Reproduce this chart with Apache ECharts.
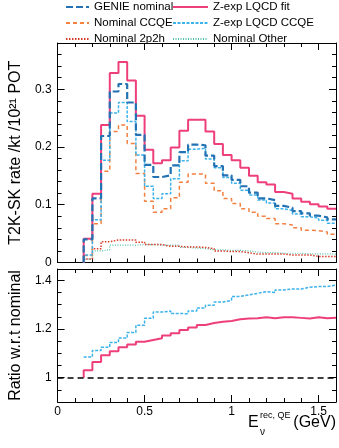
<!DOCTYPE html>
<html>
<head>
<meta charset="utf-8">
<script src="https://cdn.jsdelivr.net/npm/echarts@6/dist/echarts.min.js"></script>
<style>
  html, body { margin: 0; padding: 0; background: #fff; }
  #chart { width: 339px; height: 448px; }
</style>
</head>
<body>
<div id="chart"></div>
<script>
// bin edges (GeV), 29 bins of 0.05
const binEdges = [0.15, 0.2, 0.25, 0.3, 0.35, 0.4, 0.45, 0.5, 0.55, 0.6, 0.65, 0.7, 0.75, 0.8, 0.85,
  0.9, 0.95, 1.0, 1.05, 1.1, 1.15, 1.2, 1.25, 1.3, 1.35, 1.4, 1.45, 1.5, 1.55, 1.6]

// top panel: rate / kt / 1e21 POT
const genieNominal = [0.040, 0.111, 0.219, 0.296, 0.309, 0.277, 0.221, 0.169, 0.148, 0.151, 0.168, 0.191,
  0.204, 0.203, 0.185, 0.167, 0.151, 0.143, 0.132, 0.121, 0.111, 0.108, 0.098, 0.095, 0.089, 0.085, 0.081, 0.078, 0.0745]
const nominalCCQE = [0.012, 0.067, 0.158, 0.227, 0.238, 0.206, 0.154, 0.106, 0.087, 0.093, 0.112, 0.139,
  0.153, 0.153, 0.137, 0.124, 0.111, 0.102, 0.093, 0.087, 0.080, 0.076, 0.067, 0.065, 0.060, 0.056, 0.055, 0.053, 0.049]
const nominal2p2h = [0.006, 0.024, 0.036, 0.039, 0.039, 0.039, 0.035, 0.031, 0.031, 0.028, 0.028, 0.027,
  0.027, 0.026, 0.024, 0.020, 0.019, 0.019, 0.017, 0.0145, 0.0145, 0.0145, 0.0145, 0.013, 0.013, 0.013, 0.0105, 0.0105, 0.0105]
const nominalOther = [0.006, 0.020, 0.022, 0.030, 0.030, 0.030, 0.031, 0.031, 0.030, 0.030, 0.030, 0.026,
  0.025, 0.024, 0.022, 0.022, 0.021, 0.021, 0.020, 0.018, 0.017, 0.017, 0.016, 0.016, 0.016, 0.015, 0.015, 0.015, 0.0145]
const zexpFit = [0.041, 0.119, 0.238, 0.328, 0.347, 0.315, 0.254, 0.195, 0.172, 0.177, 0.199, 0.228,
  0.247, 0.247, 0.227, 0.205, 0.186, 0.177, 0.164, 0.150, 0.139, 0.135, 0.122, 0.119, 0.111, 0.105, 0.101, 0.097, 0.093]
const zexpCCQE = [0.013, 0.074, 0.177, 0.259, 0.277, 0.244, 0.186, 0.132, 0.111, 0.119, 0.145, 0.176,
  0.196, 0.198, 0.179, 0.164, 0.147, 0.137, 0.125, 0.117, 0.108, 0.103, 0.093, 0.090, 0.084, 0.079, 0.077, 0.073, 0.068]

// bottom panel: ratio w.r.t. nominal
const ratioFit = [1.031, 1.065, 1.092, 1.109, 1.125, 1.136, 1.148, 1.155, 1.162, 1.173, 1.183, 1.196,
  1.206, 1.217, 1.225, 1.230, 1.233, 1.240, 1.243, 1.244, 1.249, 1.244, 1.249, 1.249, 1.246, 1.243, 1.249, 1.244, 1.246]
const ratioCCQE = [1.085, 1.112, 1.125, 1.145, 1.163, 1.186, 1.216, 1.244, 1.270, 1.274, 1.264, 1.263,
  1.274, 1.287, 1.298, 1.311, 1.318, 1.334, 1.341, 1.347, 1.354, 1.350, 1.361, 1.365, 1.365, 1.372, 1.375, 1.375, 1.381]

// ticks
const xMajorTicks = [0, 0.5, 1, 1.5]
const xMinorTicks = [0.1, 0.2, 0.3, 0.4, 0.6, 0.7, 0.8, 0.9, 1.1, 1.2, 1.3, 1.4]
const rateMajorTicks = [0, 0.1, 0.2, 0.3]
const rateMinorTicks = [0.02, 0.04, 0.06, 0.08, 0.12, 0.14, 0.16, 0.18, 0.22, 0.24, 0.26, 0.28, 0.32, 0.34, 0.36]
const ratioMajorTicks = [1, 1.2, 1.4]
const ratioMinorTicks = [0.95, 1.05, 1.1, 1.15, 1.25, 1.3, 1.35]

const FONT = '"Liberation Sans", Arial, sans-serif'

function steps(values, base) {
  const pts = []
  if (base !== null) pts.push([binEdges[0], base])
  values.forEach((v, i) => {
    pts.push([binEdges[i], v], [binEdges[i + 1], v])
  })
  return pts
}

// four axes per side pair: main (line, major ticks, labels), minor, opposite main, opposite minor
function frameAxes(positions, gridIndex, lo, hi, major, minor, label, name) {
  const base = {
    type: 'value', gridIndex, min: lo, max: hi,
    splitLine: { show: false }
  }
  const axis = (position, ticks, len, line, withLabel) => ({
    ...base,
    position,
    axisLine: { show: line, onZero: false, lineStyle: { color: '#000', width: 1 } },
    axisTick: { show: true, inside: true, length: len, customValues: ticks, lineStyle: { color: '#000', width: 1 } },
    axisLabel: withLabel
      ? { show: true, customValues: major, color: '#000', fontSize: 12, fontFamily: FONT, ...label }
      : { show: false }
  })
  const main = axis(positions[0], major, 7, true, !!label)
  if (name) {
    main.name = name
    main.nameLocation = 'middle'
    main.nameGap = 32
    main.nameTextStyle = { fontSize: 16, color: '#000', fontFamily: FONT }
  }
  return [
    main,
    axis(positions[0], minor, 4, false, false),
    axis(positions[1], major, 7, true, false),
    axis(positions[1], minor, 4, false, false)
  ]
}

const chart = echarts.init(document.getElementById('chart'))

const line = (name, data, color, width, type, xi, yi) => ({
  name, type: 'line', data, xAxisIndex: xi, yAxisIndex: yi,
  symbol: 'none', showSymbol: false, animation: false,
  lineStyle: { color, width, type },
  itemStyle: { color }
})

const C = {
  genie: '#2272b4', ccqe: '#f28040', p2h: '#d83a28',
  fit: '#ee3f7c', zccqe: '#3cb2ea', other: '#50c0aa'
}

const legendBase = {
  top: 1, orient: 'vertical', padding: 0, itemGap: 4, itemHeight: 10,
  itemStyle: { opacity: 0 },
  textStyle: { fontSize: 11.5, color: '#000', fontFamily: FONT }
}

chart.setOption({
  backgroundColor: '#fff',
  textStyle: { fontFamily: FONT },
  grid: [
    { left: 51, right: 3, top: 43, height: 219.5 },
    { left: 51, right: 3, top: 269, height: 133 }
  ],
  legend: [
    { ...legendBase, left: 65, itemWidth: 23, data: ['GENIE nominal', 'Nominal CCQE', 'Nominal 2p2h'] },
    { ...legendBase, left: 172, itemWidth: 35, data: ['Z-exp LQCD fit', 'Z-exp LQCD CCQE', 'Nominal Other'] }
  ],
  xAxis: [
    ...frameAxes(['bottom', 'top'], 0, 0, 1.6, xMajorTicks, xMinorTicks, null, null),
    ...frameAxes(['bottom', 'top'], 1, 0, 1.6, xMajorTicks, xMinorTicks, { margin: 4 }, null)
  ],
  yAxis: [
    ...frameAxes(['left', 'right'], 0, 0, 0.38, rateMajorTicks, rateMinorTicks, { margin: 6 }, 'T2K-SK rate /kt /10²¹ POT'),
    ...frameAxes(['left', 'right'], 1, 0.9, 1.447, ratioMajorTicks, ratioMinorTicks, { margin: 6 }, 'Ratio w.r.t nominal')
  ],
  graphic: [
    { type: 'text', x: 248, y: 423, style: { text: 'E', fill: '#000', font: '16px ' + FONT, verticalAlign: 'middle' } },
    { type: 'text', x: 260, y: 432, style: { text: 'ν', fill: '#000', font: '10px ' + FONT, verticalAlign: 'middle' } },
    { type: 'text', x: 260, y: 416, style: { text: 'rec, QE', fill: '#000', font: '9px ' + FONT, verticalAlign: 'middle' } },
    { type: 'text', x: 336, y: 423, style: { text: '(GeV)', fill: '#000', font: '16px ' + FONT, align: 'right', verticalAlign: 'middle' } }
  ],
  series: [
    line('Nominal Other', steps(nominalOther, 0), C.other, 1.2, [1, 1.5], 0, 0),
    line('Nominal 2p2h', steps(nominal2p2h, 0), C.p2h, 1.5, [1.5, 1.5], 0, 0),
    line('Nominal CCQE', steps(nominalCCQE, 0), C.ccqe, 1.5, [4, 3], 0, 0),
    line('Z-exp LQCD CCQE', steps(zexpCCQE, 0), C.zccqe, 1.5, [3, 1.5], 0, 0),
    line('Z-exp LQCD fit', steps(zexpFit, 0), C.fit, 2, 'solid', 0, 0),
    line('GENIE nominal', steps(genieNominal, 0), C.genie, 2.2, [7, 3], 0, 0),
    line('ratio CCQE', steps(ratioCCQE, null), C.zccqe, 1.5, [3, 1.5], 4, 4),
    {
      ...line('ratio fit', steps(ratioFit, 1), C.fit, 2, 'solid', 4, 4),
      markLine: {
        silent: true, symbol: 'none', animation: false,
        label: { show: false },
        lineStyle: { color: '#000', width: 1.5, type: [6, 4] },
        data: [{ yAxis: 1 }]
      }
    }
  ]
})
</script>
</body>
</html>
